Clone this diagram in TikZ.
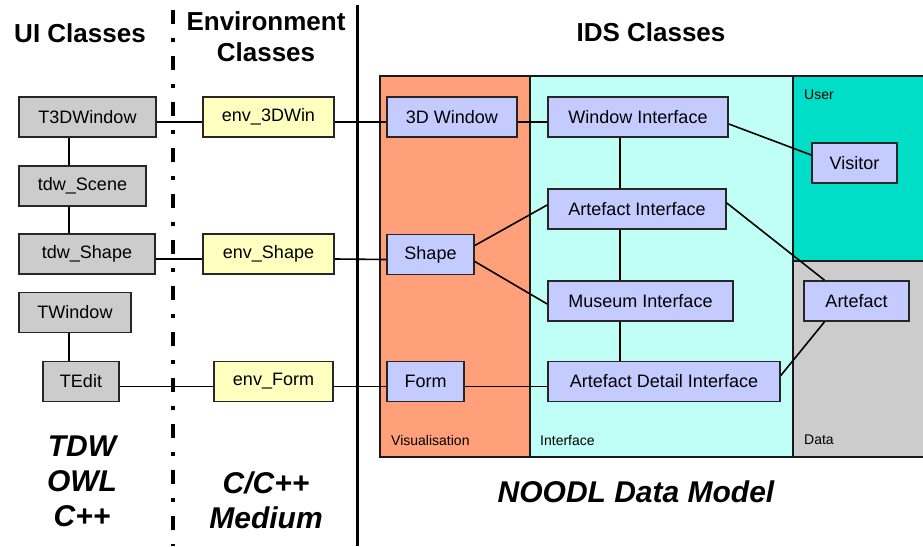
\documentclass[tikz,border=0pt]{standalone}
\usepackage{fontspec}
\setmainfont{Liberation Sans}
\usetikzlibrary{calc,positioning}
\definecolor{uigray}{RGB}{204,204,204}
\definecolor{envyellow}{RGB}{255,255,192}
\definecolor{idsblue}{RGB}{196,204,255}
\definecolor{vissalmon}{RGB}{255,160,122}
\definecolor{intcyan}{RGB}{191,255,246}
\definecolor{userteal}{RGB}{0,222,200}

\begin{document}
\begin{tikzpicture}[x=1pt,y=-1pt,
  classbox/.style={draw=black!85,line width=1.6pt,inner sep=0pt,minimum height=40pt,font=\fontsize{18}{21}\selectfont},
  uibox/.style={classbox,fill=uigray},
  envbox/.style={classbox,fill=envyellow},
  idsbox/.style={classbox,fill=idsblue},
  link/.style={line width=1.6pt},
  area/.style={draw=black!90,line width=1.6pt},
  arealabel/.style={anchor=west,inner sep=0pt,font=\fontsize{14}{16}\selectfont},
  heading/.style={font=\bfseries\fontsize{26}{31}\selectfont,align=center},
  footing/.style={font=\bfseries\itshape\fontsize{30}{35}\selectfont,align=center}]
  \useasboundingbox (0,0) rectangle (923,546);

  % column separators
  \draw[line width=3.5pt,dash pattern=on 14pt off 14pt on 4pt off 14pt] (173,10) -- (173,546);
  \draw[line width=3pt] (357,5) -- (357,546);

  % headings
  \node[heading] (uihead) at (80,33) {UI Classes};
  \node[heading] (envhead) at (266,37) {Environment\\Classes};
  \node[heading] (idshead) at (651,32) {IDS Classes};

  % IDS areas
  \filldraw[area,fill=vissalmon] (380,76) rectangle (530,457);
  \filldraw[area,fill=intcyan] (530,76) rectangle (793,457);
  \filldraw[area,fill=userteal] (793,76) rectangle (926,261);
  \filldraw[area,fill=uigray] (793,261) rectangle (926,457);
  \node[arealabel] (userlbl) at (804,95) {User};
  \node[arealabel] (vislbl) at (391,440) {Visualisation};
  \node[arealabel] (intlbl) at (540,440) {Interface};
  \node[arealabel] (datalbl) at (804,440) {Data};

  % UI classes
  \node[uibox,minimum width=137] (t3d) at (87.5,117) {T3DWindow};
  \node[uibox,minimum width=127] (scene) at (82.5,186) {tdw\_Scene};
  \node[uibox,minimum width=136] (tshape) at (87,254) {tdw\_Shape};
  \node[uibox,minimum width=112] (twin) at (75,312.5) {TWindow};
  \node[uibox,minimum width=76] (tedit) at (81,381.5) {TEdit};
  \coordinate (uilink) at (69,0);

  % environment classes
  \node[envbox,minimum width=131] (env3d) at (268.5,117) {env\_3DWin};
  \node[envbox,minimum width=131] (envshape) at (268.5,254) {env\_Shape};
  \node[envbox,minimum width=119] (envform) at (273.5,381.5) {env\_Form};

  % IDS classes
  \node[idsbox,minimum width=130] (win3d) at (452,117) {3D Window};
  \node[idsbox,minimum width=87] (shape) at (430.5,254.5) {Shape};
  \node[idsbox,minimum width=77] (form) at (425.5,381.5) {Form};
  \node[idsbox,minimum width=180] (winif) at (638,117) {Window Interface};
  \node[idsbox,minimum width=178] (artif) at (637,209) {Artefact Interface};
  \node[idsbox,minimum width=185] (musif) at (640.5,301) {Museum Interface};
  \node[idsbox,minimum width=232] (adif) at (664,381.5) {Artefact Detail Interface};
  \node[idsbox,minimum width=85] (visitor) at (854.5,163) {Visitor};
  \node[idsbox,minimum width=105] (artefact) at (856.5,301) {Artefact};
  \coordinate (iflink) at (620,0);

  % links
  \draw[link] (t3d.south -| uilink) -- (scene.north -| uilink);
  \draw[link] (scene.south -| uilink) -- (tshape.north -| uilink);
  \draw[link] (twin.south -| uilink) -- (tedit.north -| uilink);
  \draw[link] ([yshift=-5pt]t3d.east) -- ([yshift=-5pt]env3d.west);
  \draw[link] ([yshift=-5pt]env3d.east) -- ([yshift=-5pt]win3d.west);
  \draw[link] ([yshift=-5pt]win3d.east) -- ([yshift=-5pt]winif.west);
  \draw[link] ([yshift=-5pt]tshape.east) -- ([yshift=-5pt]envshape.west);
  \draw[link] ([yshift=-5pt]envshape.east) -- ([yshift=-5pt]shape.west);
  \draw[link] ([yshift=-5pt]tedit.east) -- ([yshift=-5pt]envform.west);
  \draw[link] ([yshift=-5pt]envform.east) -- ([yshift=-5pt]form.west);
  \draw[link] ([yshift=-5pt]form.east) -- ([yshift=-5pt]adif.west);
  \draw[link] (winif.south -| iflink) -- (artif.north -| iflink);
  \draw[link] (artif.south -| iflink) -- (musif.north -| iflink);
  \draw[link] (musif.south -| iflink) -- (adif.north -| iflink);
  \draw[link] ([yshift=9pt]shape.east) -- ([yshift=4pt]artif.west);
  \draw[link] ([yshift=-7pt]shape.east) -- ([yshift=-3pt]musif.west);
  \draw[link] ([yshift=-7pt]winif.east) -- ([yshift=8pt]visitor.west);
  \draw[link] ([yshift=6pt]artif.east) -- ([xshift=-32pt]artefact.north);
  \draw[link] ([yshift=6pt]adif.east) -- ([xshift=-32pt]artefact.south);

  % footings
  \node[footing] (uifoot) at (82,481) {TDW\\OWL\\C++};
  \node[footing] (envfoot) at (266,500) {C/C++\\Medium};
  \node[footing] (idsfoot) at (636,492) {NOODL Data Model};
\end{tikzpicture}
\end{document}
